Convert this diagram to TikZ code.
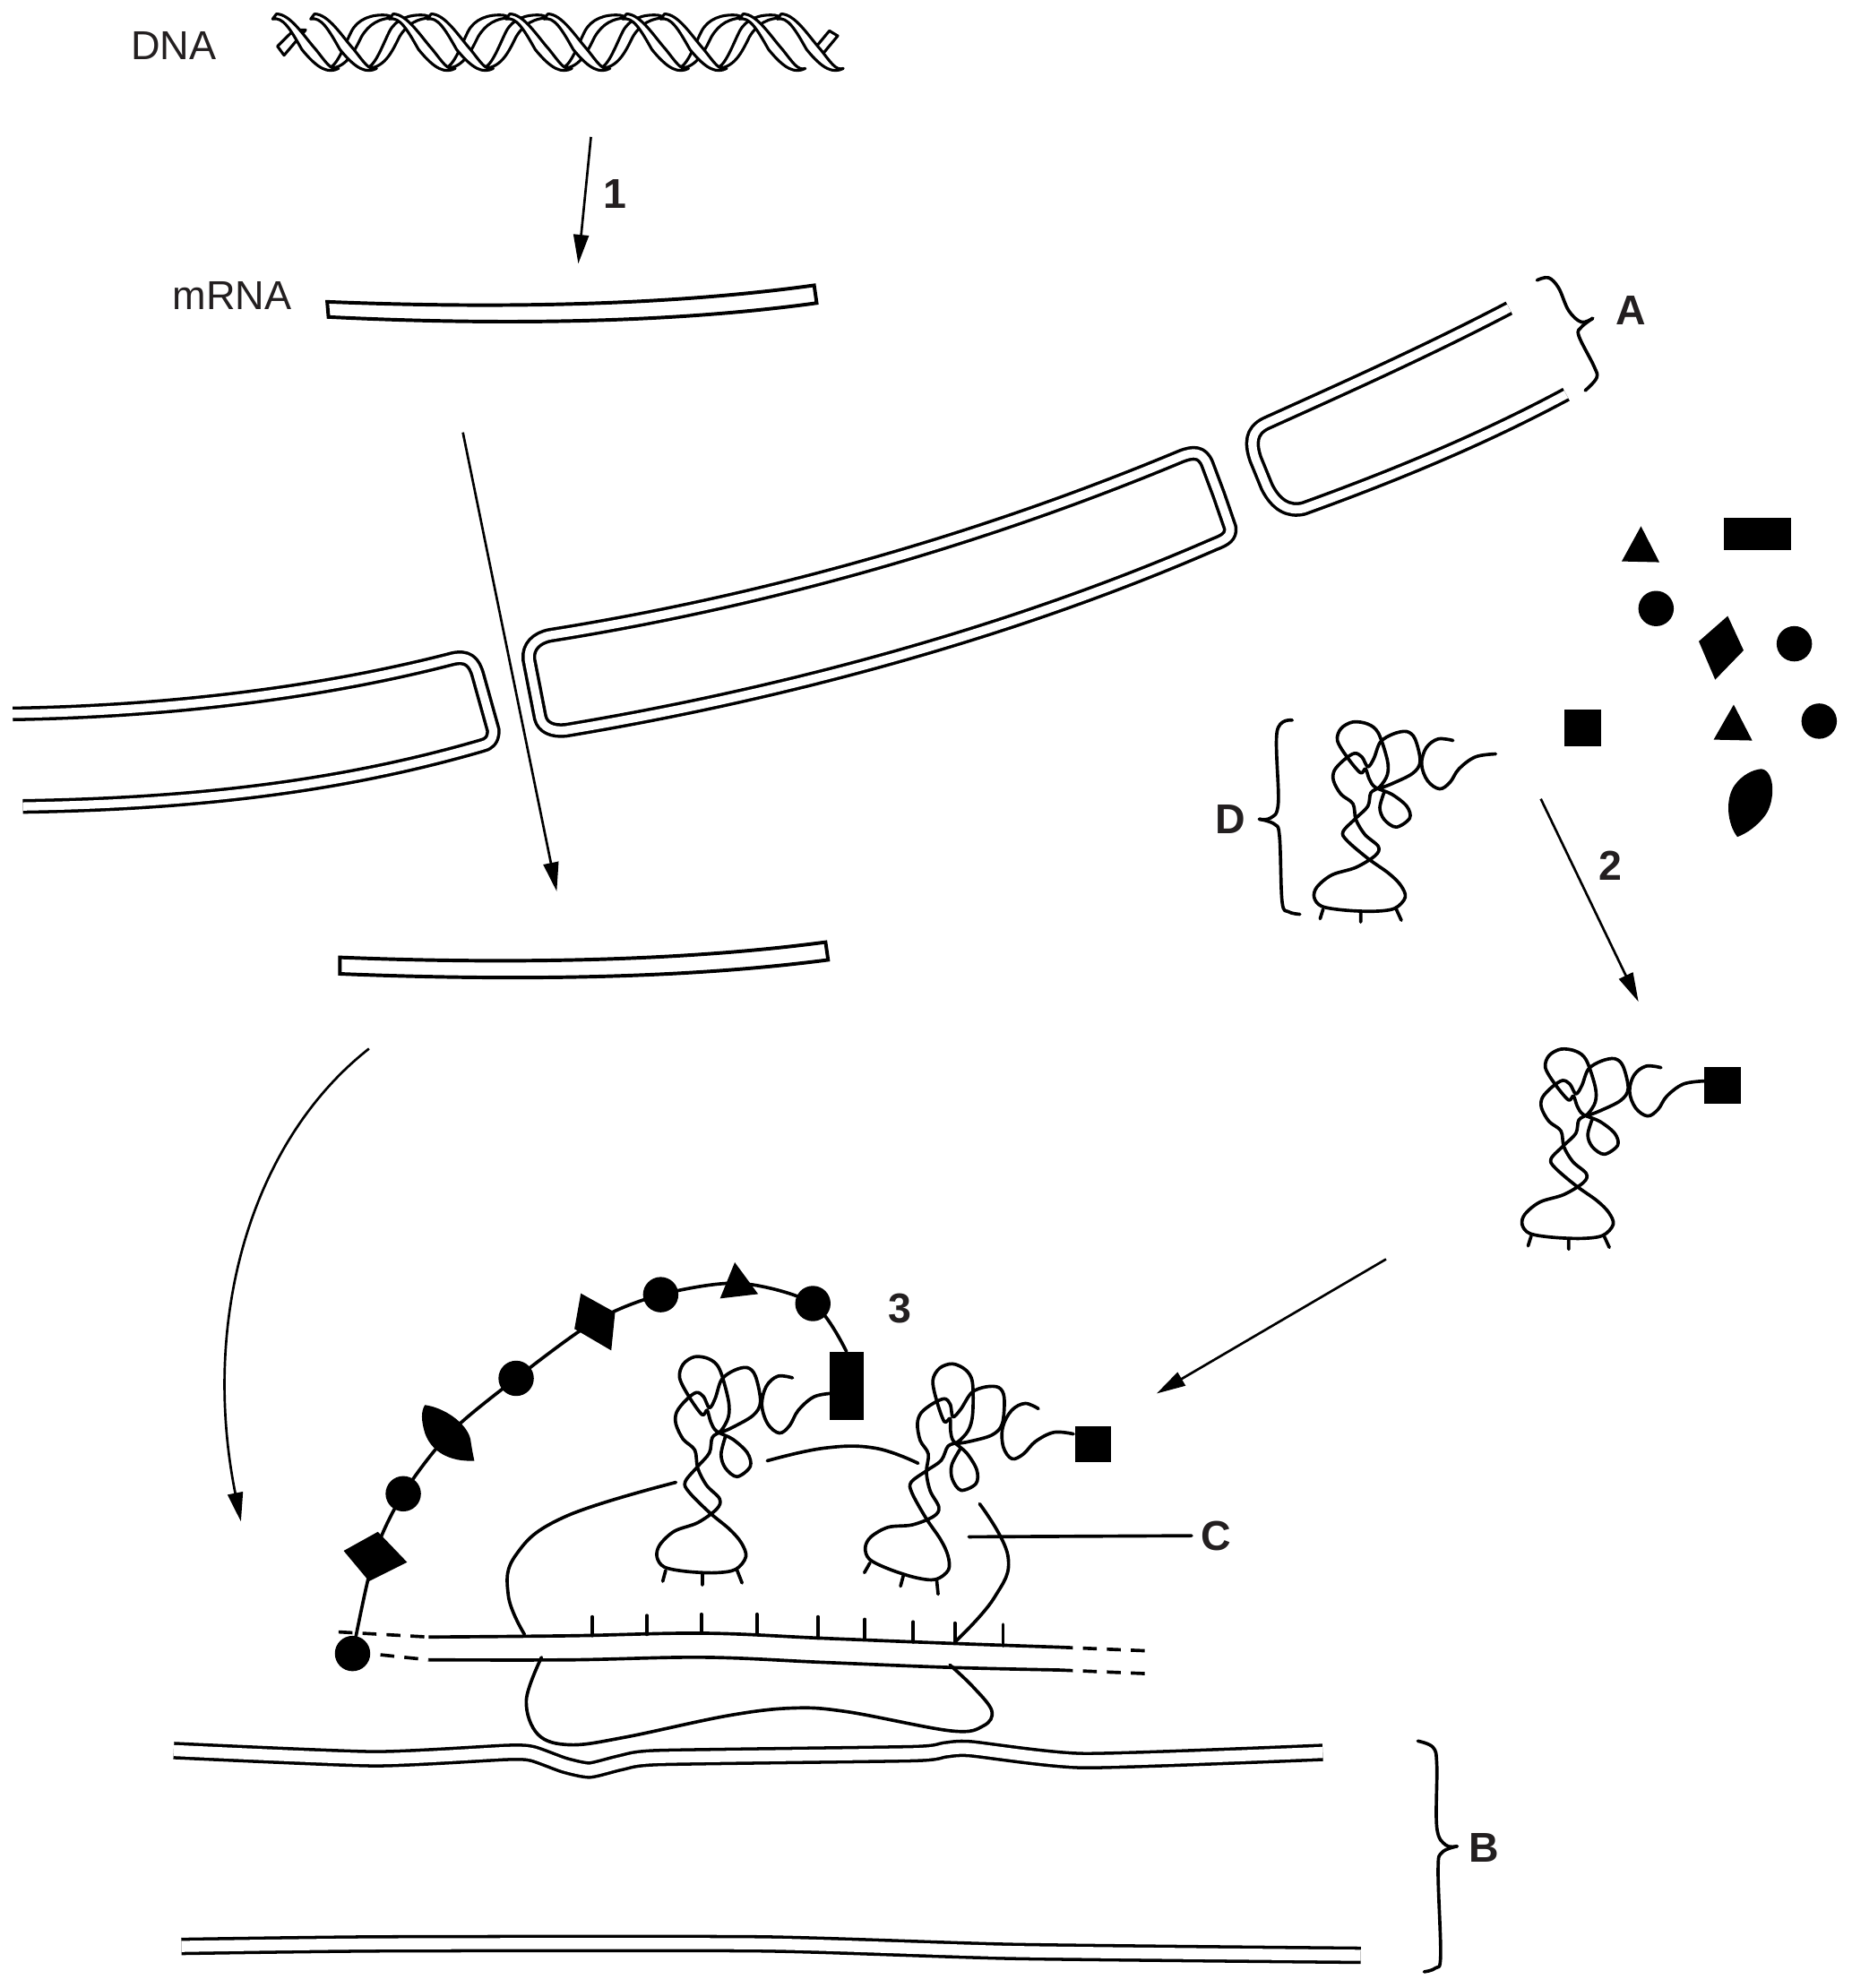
\documentclass[tikz,border=0pt]{standalone}
\usepackage{fontspec}
\setmainfont{Liberation Sans}
\usetikzlibrary{arrows.meta}
\definecolor{labelink}{HTML}{231F20}
\tikzset{textlab/.style={font=\fontsize{32}{32}\selectfont, text=labelink}}
\tikzset{numlab/.style={font=\fontsize{33}{33}\selectfont\bfseries, text=labelink}}
\tikzset{arr/.style={line width=1.9pt, -{Triangle[length=23pt,width=12pt]}}}
\tikzset{ribbon/.style={line width=2.8pt, line join=miter, fill=white}}
\tikzset{membrane/.style={line width=2.5pt, double=white, double distance=6.6pt, line join=round}}
\tikzset{sheet/.style={line width=2.5pt, double=white, double distance=8.8pt, line join=round}}
\tikzset{strand/.style={line width=2.6pt, line cap=round, line join=round}}
\tikzset{rna/.style={line width=2.6pt, line join=round}}
\tikzset{rnadash/.style={line width=2.6pt, dash pattern=on 11pt off 8pt}}
\tikzset{helixband/.style={line width=2.2pt, fill=white, line join=round}}
\tikzset{aacircle/.style={circle, fill=black, inner sep=0pt, minimum size=28pt}}
\tikzset{aabox/.style={rectangle, fill=black, inner sep=0pt}}
\tikzset{
  pics/trna/.style={code={
    \draw[strand] plot[smooth,tension=.6] coordinates {(965,140) (915,135) (875,165) (860,220) (880,275) (920,302) (955,280) (985,235) (1040,195) (1108,185)};
    \draw[strand] plot[smooth,tension=.55] coordinates {(720,300) (760,285) (830,250) (855,210) (838,135) (810,110) (765,118) (722,145) (700,200) (680,228) (660,195) (635,183) (600,205) (568,240) (565,275) (590,320) (630,352) (640,405) (670,455) (715,495) (705,525) (640,565) (560,590) (510,630) (500,665) (525,695) (600,708) (700,712) (770,702) (805,665) (790,625) (750,585) (680,535) (610,475) (597,445) (640,400) (680,360) (690,315) (720,295) (745,255) (745,205) (715,115) (680,85) (630,78) (590,100) (578,140) (610,195) (655,248) (672,235) (685,270) (705,297) (760,320) (810,360) (820,400) (775,430) (735,405) (720,365) (735,312)};
    \draw[strand] (530,705) -- (520,737) (656,712) -- (656,748) (775,705) -- (792,742);
  }},
  pics/helixback/.style={code={
    \filldraw[helixband] (42,43) .. controls (50,44) and (56,26) .. (62,14) .. controls (67,4) and (78,0) .. (90,1) -- (97,3) .. controls (84,3) and (76,8) .. (70,18) .. controls (64,30) and (58,44) .. (42,43) -- cycle;
    \filldraw[helixband] (72,43) .. controls (80,44) and (86,26) .. (92,14) .. controls (97,4) and (108,0) .. (120,1) -- (127,3) .. controls (114,3) and (106,8) .. (100,18) .. controls (94,30) and (88,44) .. (72,43) -- cycle;
  }},
  pics/helixfront/.style={code={
    \filldraw[helixband] (3,0) .. controls (14,0) and (25,18) .. (34,28) .. controls (42,38) and (46,45) .. (52,43) .. controls (44,47) and (36,44) .. (23,28) .. controls (14,12) and (8,2) .. (0,4) -- cycle;
    \filldraw[helixband] (33,0) .. controls (44,0) and (55,18) .. (64,28) .. controls (72,38) and (76,45) .. (82,43) .. controls (74,47) and (66,44) .. (53,28) .. controls (44,12) and (38,2) .. (30,4) -- cycle;
  }}
}
\begin{document}
\begin{tikzpicture}[x=1.0045pt, y=-1.0045pt]
  \useasboundingbox (0,0) rectangle (1460.4,1567.8);

  \node (dna) [textlab] at (137,36) {DNA};
  \node (mrna) [textlab] at (183,233) {mRNA};

  % helix
  \filldraw[helixband] (218.8,36.5) -- (224,43.6) -- (241,23.6) -- (231.8,23.6) -- cycle;
  \filldraw[helixband] (654,24.3) -- (660.6,28.3) -- (647,44.7) -- (641,40) -- cycle;
  \pic at (215,11) {helixback};
  \pic at (307,11) {helixback};
  \pic at (399,11) {helixback};
  \pic at (491,11) {helixback};
  \pic at (215,11) {helixfront};
  \pic at (307,11) {helixfront};
  \pic at (399,11) {helixfront};
  \pic at (491,11) {helixfront};
  \pic at (583,11) {helixfront};

  % messenger pieces
  \draw[ribbon] (258,238) .. controls (380,243) and (520,242) .. (642,225) -- (644,239) .. controls (520,256) and (380,256) .. (259,250) -- cycle;
  \draw[ribbon] (268,755) .. controls (390,760) and (530,759) .. (651,743) -- (653,757) .. controls (530,773) and (390,773) .. (268,768) -- cycle;

  % nuclear envelope
  \draw[membrane] (1190,243) .. controls (1125,277) and (1060,306) .. (998,334) .. controls (986,340) and (986,350) .. (990,362) -- (999,384) .. controls (1006,398) and (1016,404) .. (1028,401) .. controls (1100,375) and (1170,346) .. (1235,311);
  \draw[membrane] (434,501) .. controls (610,473) and (780,423) .. (931,360) .. controls (941,356) and (948,356) .. (952,366) -- (961,390) -- (970,416) .. controls (971,423) and (966,426) .. (958,429) .. controls (800,498) and (620,547) .. (446,576) .. controls (436,577) and (428,574) .. (426,566) -- (417,520) .. controls (416,510) and (423,503) .. (434,501) -- cycle;
  \draw[membrane] (10,563) .. controls (130,561) and (250,547) .. (355,520) .. controls (369,516) and (374,522) .. (377,533) -- (389,576) .. controls (389,584) and (385,587) .. (380,588) .. controls (260,623) and (140,634) .. (18,636);

  % arrows
  \node (n1) [numlab] at (485,153) {1};
  \node (n2) [numlab] at (1270,683) {2};
  \node (n3) [numlab] at (710,1032) {3};
  \coordinate (a1s) at (466,108);
  \coordinate (a1e) at (456,208);
  \coordinate (a2s) at (365,341);
  \coordinate (a2e) at (439,703);
  \coordinate (a3s) at (291,827);
  \coordinate (a3e) at (190,1200);
  \coordinate (a4s) at (1215,630);
  \coordinate (a4e) at (1292,790);
  \coordinate (a5s) at (1093,993);
  \coordinate (a5e) at (912,1099);
  \draw[arr] (a1s) -- (a1e);
  \draw[arr] (a2s) -- (a2e);
  \draw[arr] (a3s) .. controls (198,900) and (158,1040) .. (a3e);
  \draw[arr] (a4s) -- (a4e);
  \draw[arr] (a5s) -- (a5e);

  % braces
  \node (A) [numlab] at (1286,245) {A};
  \node (B) [numlab] at (1170,1457) {B};
  \node (D) [numlab] at (970,646) {D};
  \draw[strand] plot[smooth,tension=.6] coordinates {(1212,221) (1221,219) (1229,227) (1237,245) (1247,254) (1256,251)};
  \draw[strand] plot[smooth,tension=.6] coordinates {(1256,251) (1247,258) (1245,265) (1257,289) (1259,298) (1250,308)};
  \draw[strand] plot[smooth,tension=.6] coordinates {(1118,1373) (1130,1378) (1133,1392) (1133,1441) (1140,1455) (1149,1456)};
  \draw[strand] plot[smooth,tension=.6] coordinates {(1149,1456) (1137,1461) (1134,1475) (1136,1542) (1132,1552) (1123,1555)};
  \draw[strand] plot[smooth,tension=.6] coordinates {(1019,568) (1007,577) (1008,633) (1002,645) (993,646)};
  \draw[strand] plot[smooth,tension=.6] coordinates {(993,646) (1005,650) (1009,660) (1011,711) (1016,719) (1025,721)};

  % free amino acids
  \fill (1294,415) -- (1278.8,442.7) -- (1308.5,443.4) -- cycle;
  \node (f1) [aabox, minimum width=53.5pt, minimum height=26pt] at (1385.7,421) {};
  \node (f2) [aacircle] at (1305.9,479.9) {};
  \fill (1362.4,485.8) -- (1374.9,512.9) -- (1352.5,536) -- (1339.6,505.8) -- cycle;
  \node (f3) [aacircle] at (1414.9,507.7) {};
  \node (f4) [aabox, minimum size=29pt] at (1248,574.3) {};
  \fill (1367.1,555.7) -- (1351.3,583.3) -- (1381.7,584) -- cycle;
  \node (f5) [aacircle] at (1434.5,568.7) {};
  \fill (1389,606.4) .. controls (1400,608) and (1400,632) .. (1392,643) .. controls (1386,651) and (1378,657) .. (1370,660) .. controls (1362,650) and (1360,630) .. (1368,619) .. controls (1374,611) and (1382,607) .. (1389,606.4) -- cycle;

  % transfer RNAs
  \pic[xscale=.2355, yscale=.2355] at (918.5,551) {trna};
  \pic[xscale=.2355, yscale=.2355] at (1082.5,809) {trna};
  \node (s2) [aabox, minimum size=29pt] at (1358.5,856) {};
  \pic[xscale=.23, yscale=.2687] at (403,1049) {trna};
  \pic[rotate=-15, xscale=.2227, yscale=.2687] at (621,1019) {trna};
  \node (s4) [aabox, minimum size=28pt] at (862,1139) {};

  % growing chain
  \node (p1) [aacircle] at (278,1304) {};
  \coordinate (p2) at (295,1227);
  \node (p3) [aacircle] at (318,1178) {};
  \coordinate (p4) at (355,1130);
  \node (p5) [aacircle] at (407,1087) {};
  \coordinate (p6) at (469,1042);
  \node (p7) [aacircle] at (521,1021) {};
  \coordinate (p8) at (583,1012);
  \node (p9) [aacircle] at (641,1028) {};
  \node (p10) [aabox, minimum width=27pt, minimum height=54pt] at (667.5,1093) {};
  \draw[strand] plot[smooth,tension=.5] coordinates {(p1) (p2) (p3) (p4) (p5) (p6) (p7) (p8) (p9) (p10.north)};
  \fill (298,1208) -- (321,1232) -- (291,1247) -- (271,1223) -- cycle;
  \fill (335,1108) .. controls (350,1110) and (368,1122) .. (371,1135) .. controls (372,1142) and (373,1147) .. (374,1152) .. controls (355,1153) and (340,1145) .. (335,1130) .. controls (332,1120) and (332,1113) .. (335,1108) -- cycle;
  \fill (458,1020) -- (485,1035) -- (482,1065) -- (453,1048) -- cycle;
  \fill (579.4,995.5) -- (597.8,1020.5) -- (567.8,1024) -- cycle;

  % ribosome
  \draw[strand] plot[smooth,tension=.7] coordinates {(413.6,1289) (400.8,1258) (407,1226) (445.8,1196) (533,1169)};
  \draw[strand] plot[smooth,tension=.7] coordinates {(605,1152) (650,1142) (690,1142) (724,1154)};
  \draw[strand] plot[smooth,tension=.7] coordinates {(772.5,1186) (794.8,1227) (784,1260) (754,1294)};
  \draw[strand] plot[smooth,tension=.6] coordinates {(427,1307) (415,1341) (424.4,1368) (450,1376) (493,1370) (574,1353) (625.6,1347) (668.5,1350) (750,1365) (775.5,1361) (782,1349) (767,1330) (749,1313)};

  % messenger on the ribosome
  \coordinate (mu1) at (267,1287);
  \coordinate (mu2) at (338,1291);
  \coordinate (mu3) at (835,1299);
  \coordinate (mu4) at (907,1302);
  \coordinate (ml1) at (300,1305);
  \coordinate (ml2) at (338,1309);
  \coordinate (ml3) at (835,1317);
  \coordinate (ml4) at (907,1320);
  \draw[rnadash] (mu1) -- (mu2);
  \draw[rnadash] (mu3) -- (mu4);
  \draw[rnadash] (ml1) -- (ml2);
  \draw[rnadash] (ml3) -- (ml4);
  \draw[rna] plot[smooth,tension=.6] coordinates {(mu2) (450,1290) (555,1288) (650,1292) (750,1296) (mu3)};
  \draw[rna] plot[smooth,tension=.6] coordinates {(ml2) (450,1309) (555,1307) (650,1311) (750,1315) (ml3)};
  \draw[strand] (467,1275) -- (467,1290) (510,1274) -- (510,1289) (553,1273) -- (553,1288) (597,1273) -- (597,1289) (645,1275) -- (645,1292) (682,1277) -- (682,1293) (720,1279) -- (720,1295) (753,1280) -- (753,1296) (791,1281) -- (791,1298);

  % rough membrane
  \draw[sheet] plot[smooth,tension=.35] coordinates {(137,1380.5) (295,1387) (400,1382) (420,1383) (445,1392) (465,1396) (490,1390) (520,1386) (720,1383) (745,1380) (765,1379) (855,1388.5) (1043,1382)};
  \draw[sheet] plot[smooth,tension=.35] coordinates {(143,1535) (300,1533) (600,1533) (800,1539) (1073,1542)};

  % pointer
  \node (C) [numlab] at (959,1211) {C};
  \coordinate (cs) at (764,1212);
  \draw[strand, shorten >=4pt] (cs) -- (C);
\end{tikzpicture}
\end{document}
